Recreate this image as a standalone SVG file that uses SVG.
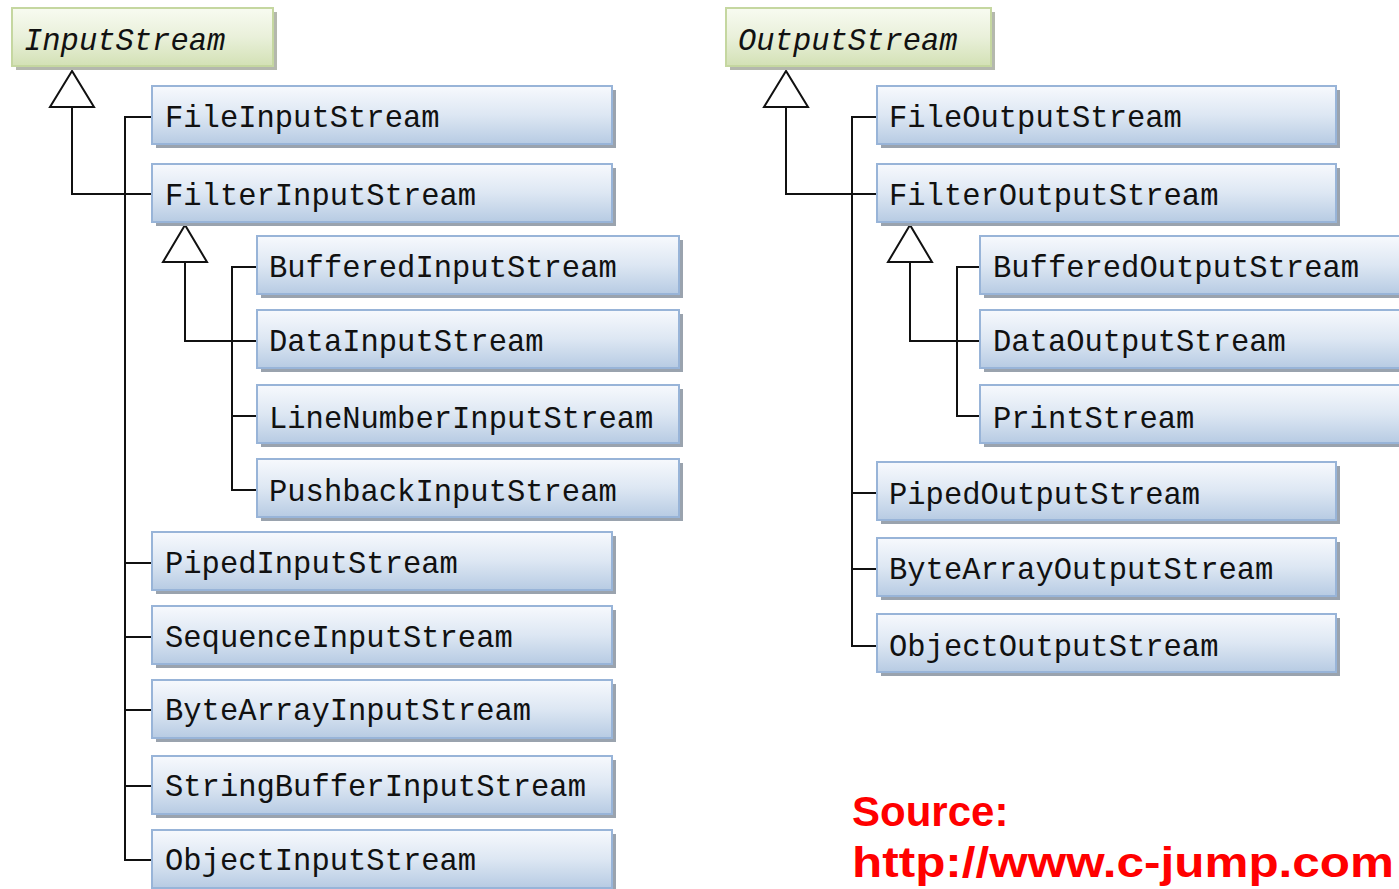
<svg xmlns="http://www.w3.org/2000/svg" width="1399" height="889" viewBox="0 0 1399 889">
<defs>
<linearGradient id="gb" x1="0" y1="0" x2="0" y2="1">
<stop offset="0" stop-color="#f7f9fd"/><stop offset="0.5" stop-color="#dde7f3"/><stop offset="1" stop-color="#b7cbe3"/>
</linearGradient>
<linearGradient id="gg" x1="0" y1="0" x2="0" y2="1">
<stop offset="0" stop-color="#f8fbf1"/><stop offset="0.5" stop-color="#e9f0da"/><stop offset="1" stop-color="#d3e1b5"/>
</linearGradient>
</defs>
<style>
.b rect.s{fill:#9aa3ae}
.b rect.f{fill:url(#gb);stroke:#98b4d8;stroke-width:2}
.g rect.s{fill:#b4b8ad}
.g rect.f{fill:url(#gg);stroke:#c5d7a0;stroke-width:2}
text.t{font-family:"Liberation Mono","DejaVu Sans Mono",monospace;font-size:30.5px;fill:#111}
text.i{font-style:italic}
.c path{fill:none;stroke:#111;stroke-width:2}
.c polygon{fill:#fff;stroke:#111;stroke-width:2}
.src{font-family:"Liberation Sans",Arial,sans-serif;font-weight:bold;font-size:42px;fill:#ff0000}
</style>
<rect width="1399" height="889" fill="#fff"/>
<g class="c" id="connectors">
<path d="M72 107V194H152"/>
<path d="M152 117H125V860H152M125 563H152M125 637H152M125 710H152M125 786H152"/>
<path d="M185 262V341H257"/>
<path d="M257 267H232V490H257M232 416H257"/>
<polygon points="72,71 50,107 94,107"/>
<polygon points="185,225 163,262 207,262"/>
<path d="M786 107V194H877"/>
<path d="M877 117H852V646H877M852 493H877M852 569H877"/>
<path d="M910 262V341H980"/>
<path d="M980 267H957V416H980"/>
<polygon points="786,71 764,107 808,107"/>
<polygon points="910,225 888,262 932,262"/>
</g>
<g id="InputStream" class="g"><rect class="s" x="16" y="12" width="261" height="58"/><rect class="f" x="12" y="8" width="261" height="58"/><text class="t i" x="24" y="50">InputStream</text></g>
<g id="FileInputStream" class="b"><rect class="s" x="156" y="90" width="460" height="58"/><rect class="f" x="152" y="86" width="460" height="58"/><text class="t" x="165" y="127">FileInputStream</text></g>
<g id="FilterInputStream" class="b"><rect class="s" x="156" y="168" width="460" height="58"/><rect class="f" x="152" y="164" width="460" height="58"/><text class="t" x="165" y="205">FilterInputStream</text></g>
<g id="BufferedInputStream" class="b"><rect class="s" x="261" y="240" width="422" height="58"/><rect class="f" x="257" y="236" width="422" height="58"/><text class="t" x="269" y="277">BufferedInputStream</text></g>
<g id="DataInputStream" class="b"><rect class="s" x="261" y="314" width="422" height="58"/><rect class="f" x="257" y="310" width="422" height="58"/><text class="t" x="269" y="351">DataInputStream</text></g>
<g id="LineNumberInputStream" class="b"><rect class="s" x="261" y="389" width="422" height="58"/><rect class="f" x="257" y="385" width="422" height="58"/><text class="t" x="269" y="428">LineNumberInputStream</text></g>
<g id="PushbackInputStream" class="b"><rect class="s" x="261" y="463" width="422" height="58"/><rect class="f" x="257" y="459" width="422" height="58"/><text class="t" x="269" y="501">PushbackInputStream</text></g>
<g id="PipedInputStream" class="b"><rect class="s" x="156" y="536" width="460" height="58"/><rect class="f" x="152" y="532" width="460" height="58"/><text class="t" x="165" y="573">PipedInputStream</text></g>
<g id="SequenceInputStream" class="b"><rect class="s" x="156" y="610" width="460" height="58"/><rect class="f" x="152" y="606" width="460" height="58"/><text class="t" x="165" y="647">SequenceInputStream</text></g>
<g id="ByteArrayInputStream" class="b"><rect class="s" x="156" y="684" width="460" height="58"/><rect class="f" x="152" y="680" width="460" height="58"/><text class="t" x="165" y="720">ByteArrayInputStream</text></g>
<g id="StringBufferInputStream" class="b"><rect class="s" x="156" y="760" width="460" height="58"/><rect class="f" x="152" y="756" width="460" height="58"/><text class="t" x="165" y="796">StringBufferInputStream</text></g>
<g id="ObjectInputStream" class="b"><rect class="s" x="156" y="834" width="460" height="58"/><rect class="f" x="152" y="830" width="460" height="58"/><text class="t" x="165" y="870">ObjectInputStream</text></g>
<g id="OutputStream" class="g"><rect class="s" x="730" y="12" width="265" height="58"/><rect class="f" x="726" y="8" width="265" height="58"/><text class="t i" x="738" y="50">OutputStream</text></g>
<g id="FileOutputStream" class="b"><rect class="s" x="881" y="90" width="459" height="58"/><rect class="f" x="877" y="86" width="459" height="58"/><text class="t" x="889" y="127">FileOutputStream</text></g>
<g id="FilterOutputStream" class="b"><rect class="s" x="881" y="168" width="459" height="58"/><rect class="f" x="877" y="164" width="459" height="58"/><text class="t" x="889" y="205">FilterOutputStream</text></g>
<g id="BufferedOutputStream" class="b"><rect class="s" x="984" y="240" width="430" height="58"/><rect class="f" x="980" y="236" width="430" height="58"/><text class="t" x="993" y="277">BufferedOutputStream</text></g>
<g id="DataOutputStream" class="b"><rect class="s" x="984" y="314" width="430" height="58"/><rect class="f" x="980" y="310" width="430" height="58"/><text class="t" x="993" y="351">DataOutputStream</text></g>
<g id="PrintStream" class="b"><rect class="s" x="984" y="389" width="430" height="58"/><rect class="f" x="980" y="385" width="430" height="58"/><text class="t" x="993" y="428">PrintStream</text></g>
<g id="PipedOutputStream" class="b"><rect class="s" x="881" y="466" width="459" height="58"/><rect class="f" x="877" y="462" width="459" height="58"/><text class="t" x="889" y="504">PipedOutputStream</text></g>
<g id="ByteArrayOutputStream" class="b"><rect class="s" x="881" y="542" width="459" height="58"/><rect class="f" x="877" y="538" width="459" height="58"/><text class="t" x="889" y="579">ByteArrayOutputStream</text></g>
<g id="ObjectOutputStream" class="b"><rect class="s" x="881" y="618" width="459" height="58"/><rect class="f" x="877" y="614" width="459" height="58"/><text class="t" x="889" y="656">ObjectOutputStream</text></g>
<g id="source">
<text class="src" x="852" y="826">Source:</text>
<text class="src" x="852" y="877" textLength="542" lengthAdjust="spacingAndGlyphs">http://www.c-jump.com</text>
</g>
</svg>
